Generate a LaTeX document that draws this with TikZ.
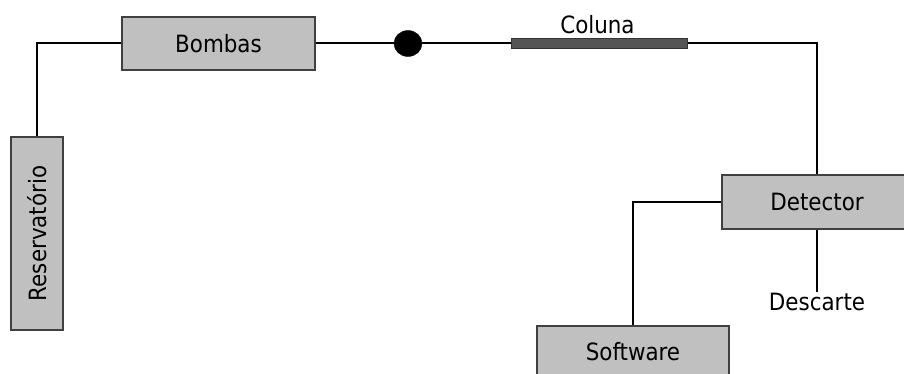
\documentclass[tikz,border=0pt]{standalone}
\usepackage{fontspec}
\usetikzlibrary{shapes.geometric}
\setmainfont{DejaVu Sans Condensed}
\definecolor{boxfill}{HTML}{C0C0C0}
\definecolor{boxline}{HTML}{404040}
\definecolor{colfill}{HTML}{555555}
\begin{document}
\begin{tikzpicture}[x=1pt,y=-1pt,
  unit/.style={draw=boxline,fill=boxfill,line width=1.6pt,rectangle,inner sep=0pt,font=\fontsize{23.8}{28}\selectfont},
  conn/.style={line width=2pt,black},
  lbl/.style={inner sep=0pt,font=\fontsize{23.8}{28}\selectfont}]
\useasboundingbox (0,0) rectangle (904,374);
\node[unit,minimum width=193pt,minimum height=53pt] (bombas) at (218.5,43.5) {Bombas};
\node[unit,minimum width=52pt,minimum height=193pt] (res) at (37,233.5) {\rotatebox{90}{Reservatório}};
\node[ellipse,fill=black,draw=black,inner sep=0pt,minimum width=28pt,minimum height=26pt] (dot) at (408,43.5) {};
\node[draw=black!80,fill=colfill,line width=1pt,rectangle,inner sep=0pt,minimum width=176pt,minimum height=10pt] (coluna) at (599,43.5) {};
\node[lbl] (colunalbl) at (597.5,24.5) {Coluna};
\node[unit,minimum width=190pt,minimum height=54pt] (detector) at (817,202) {Detector};
\node[unit,minimum width=192pt,minimum height=52pt] (software) at (633,352) {Software};
\node[lbl] (descarte) at (817,301.5) {Descarte};
\draw[conn] (bombas.west) -| (res.north);
\draw[conn] (bombas.east) -- (dot.west);
\draw[conn] (dot.east) -- (coluna.west);
\draw[conn] (coluna.east) -| (detector.north);
\draw[conn] (detector.west) -| (software.north);
\draw[conn] (detector.south) -- (descarte.north);
\end{tikzpicture}
\end{document}
